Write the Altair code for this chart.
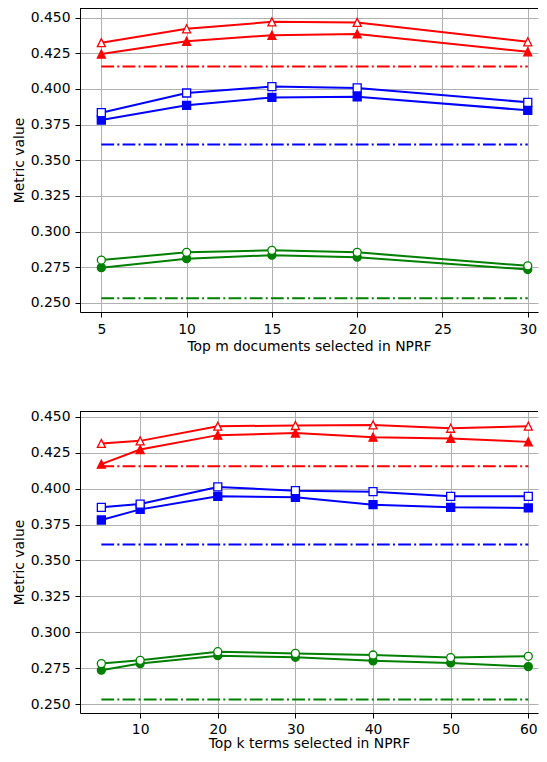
import altair as alt
import pandas as pd

# ---------------- data ----------------
x_m = [5, 10, 15, 20, 30]
red_open_m = [0.4324, 0.4421, 0.4470, 0.4466, 0.4330]
red_filled_m = [0.4244, 0.4334, 0.4376, 0.4385, 0.4260]
blue_open_m = [0.3833, 0.3971, 0.4016, 0.4007, 0.3906]
blue_filled_m = [0.3782, 0.3885, 0.3940, 0.3945, 0.3850]
green_open_m = [0.2800, 0.2854, 0.2868, 0.2854, 0.2760]
green_filled_m = [0.2747, 0.2810, 0.2834, 0.2820, 0.2734]

x_k = [5, 10, 20, 30, 40, 50, 60]
red_open_k = [0.4315, 0.4333, 0.4435, 0.4440, 0.4444, 0.4421, 0.4435]
red_filled_k = [0.4171, 0.4273, 0.4373, 0.4387, 0.4359, 0.4350, 0.4326]
blue_open_k = [0.3870, 0.3893, 0.4012, 0.3986, 0.3979, 0.3947, 0.3947]
blue_filled_k = [0.3782, 0.3856, 0.3947, 0.3940, 0.3889, 0.3870, 0.3866]
green_open_k = [0.2782, 0.2805, 0.2865, 0.2853, 0.2842, 0.2824, 0.2833]
green_filled_k = [0.2736, 0.2782, 0.2837, 0.2826, 0.2801, 0.2787, 0.2761]

baseline_names = ["red_base", "blue_base", "green_base"]
baseline_values = [0.4157, 0.3611, 0.2532]

y_ticks = [0.250, 0.275, 0.300, 0.325, 0.350, 0.375, 0.400, 0.425, 0.450]
x_ticks_m = [5, 10, 15, 20, 25, 30]
x_ticks_k = [10, 20, 30, 40, 50, 60]

series_names = ["red_filled", "red_open", "blue_filled", "blue_open", "green_filled", "green_open"]
series_stroke = ["#ff0000", "#ff0000", "#0000ff", "#0000ff", "#008000", "#008000"]
series_fill = ["#ff0000", "#ffffff", "#0000ff", "#ffffff", "#008000", "#ffffff"]
TRI = "M0,-1L-1,1L1,1Z"
series_shape = [TRI, TRI, "square", "square", "circle", "circle"]

W = 458
FONT = "DejaVu Sans"
FS = 13.9


def long_df(xs, cols):
    rows = []
    for name, vals in zip(series_names, cols):
        for xv, yv in zip(xs, vals):
            rows.append({"x": xv, "y": yv, "series": name})
    return pd.DataFrame(rows)


def panel(xs, cols, xdomain, ydomain, xticks, xtitle, xend, H, lp, tp):
    df = long_df(xs, cols)
    base_df = pd.DataFrame({"series": baseline_names, "y": baseline_values,
                            "x0": [5] * 3, "x1": [xend] * 3})
    xscale = alt.Scale(domain=xdomain, nice=False, zero=False)
    yscale = alt.Scale(domain=ydomain, nice=False, zero=False)
    xaxis = alt.Axis(values=xticks, format="d", title=xtitle, labelPadding=lp, titlePadding=tp)
    yaxis = alt.Axis(values=y_ticks, format=".3f", title="Metric value")

    stroke_scale = alt.Scale(domain=series_names, range=series_stroke)
    fill_scale = alt.Scale(domain=series_names, range=series_fill)
    shape_scale = alt.Scale(domain=series_names, range=series_shape)

    bl = alt.Chart(base_df).mark_rule(strokeWidth=2, strokeDash=[12.8, 3.2, 2, 3.2]).encode(
        x=alt.X("x0:Q", scale=xscale, axis=xaxis),
        x2="x1:Q",
        y=alt.Y("y:Q", scale=yscale, axis=yaxis),
        stroke=alt.Stroke("series:N", scale=alt.Scale(domain=baseline_names,
                                                       range=["#ff0000", "#0000ff", "#008000"]),
                          legend=None),
    )
    lines = alt.Chart(df).mark_line(strokeWidth=2).encode(
        x=alt.X("x:Q", scale=xscale, axis=xaxis),
        y=alt.Y("y:Q", scale=yscale, axis=yaxis),
        stroke=alt.Stroke("series:N", scale=stroke_scale, legend=None),
        detail="series:N",
    )
    pts = alt.Chart(df).mark_point(filled=True, opacity=1, strokeWidth=1.3, size=64).encode(
        x=alt.X("x:Q", scale=xscale, axis=xaxis),
        y=alt.Y("y:Q", scale=yscale, axis=yaxis),
        stroke=alt.Stroke("series:N", scale=stroke_scale, legend=None),
        fill=alt.Fill("series:N", scale=fill_scale, legend=None),
        shape=alt.Shape("series:N", scale=shape_scale, legend=None),
    )
    top = alt.Chart(base_df).mark_rule(color="black", strokeWidth=1).encode(
        x=alt.value(0), x2=alt.value(W), y=alt.value(0.5)
    )
    return alt.layer(bl, lines, pts, top).resolve_scale(
        stroke="independent"
    ).properties(width=W, height=H)


p1 = panel(x_m, [red_filled_m, red_open_m, blue_filled_m, blue_open_m, green_filled_m, green_open_m],
           [3.75, 30.60], [0.2436, 0.4567], x_ticks_m, "Top m documents selected in NPRF", 30,
           304, 5, 4)
p2 = panel(x_k, [red_filled_k, red_open_k, blue_filled_k, blue_open_k, green_filled_k, green_open_k],
           [2.25, 61.25], [0.2438, 0.4541], x_ticks_k, "Top k terms selected in NPRF", 60,
           302, 4, 1)

chart = alt.vconcat(p1, p2, spacing=55).properties(
    padding={"left": 4, "top": 0, "right": 0, "bottom": 0}
).configure_view(stroke=None).configure_axis(
    labelFont=FONT, titleFont=FONT, labelFontSize=FS, titleFontSize=FS,
    labelColor="black", titleColor="black", titleFontWeight="normal",
    domainColor="black", tickColor="black", domainWidth=1, tickWidth=1, tickSize=5,
    gridColor="#b0b0b0", gridWidth=1, gridOpacity=1,
    labelFlush=False, labelOverlap=False,
).configure_axisY(labelPadding=5, titlePadding=4)

chart.save("out.html", embed_options={"renderer": "svg", "actions": False})
